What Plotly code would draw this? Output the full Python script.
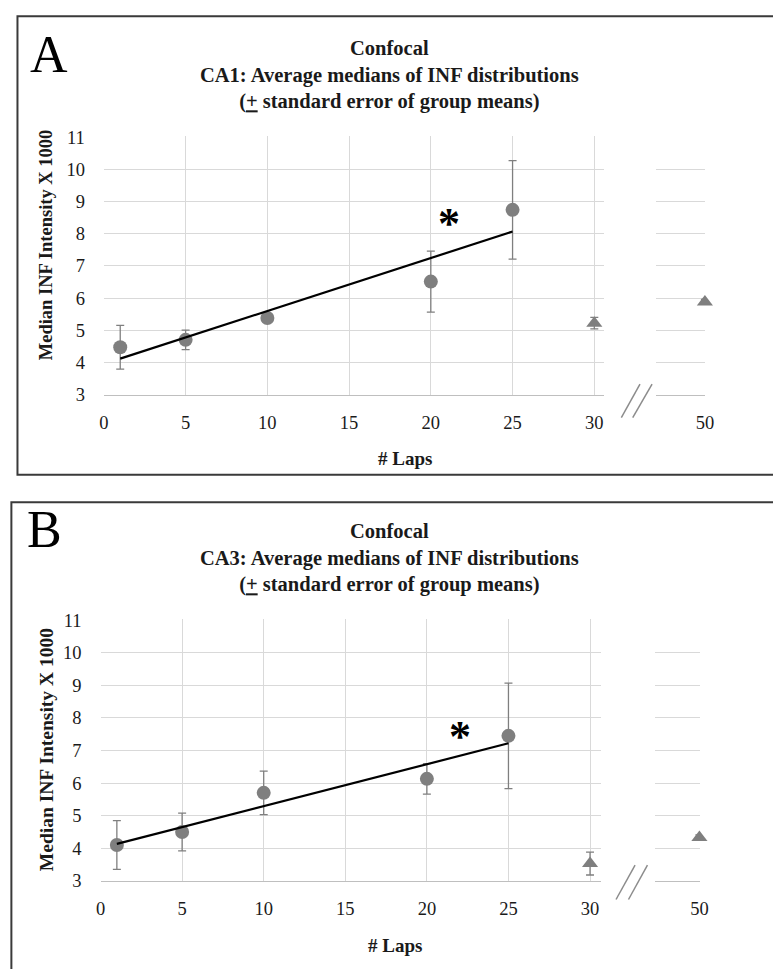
import numpy as np
import plotly.graph_objects as go

# ---------------- data ----------------
laps = [1, 5, 10, 20, 25]
ctrl30_laps = [30]
ctrl50_laps = [50]

ca1_mean = [4.47, 4.70, 5.38, 6.51, 8.74]
ca1_se = [0.68, 0.30, 0.12, 0.95, 1.53]
ca1_30_mean = [5.22]
ca1_30_se = [0.18]
ca1_50_mean = [5.88]
ca1_50_se = [0.08]

ca3_mean = [4.10, 4.50, 5.70, 6.13, 7.45]
ca3_se = [0.75, 0.58, 0.67, 0.47, 1.62]
ca3_30_mean = [3.53]
ca3_30_se = [0.35]
ca3_50_mean = [4.33]
ca3_50_se = [0.08]

x_ticks_main = [0, 5, 10, 15, 20, 25, 30]
x_ticks_right = [50]
y_ticks = [3, 4, 5, 6, 7, 8, 9, 10, 11]

titles = [
    "<b>Confocal<br>CA1: Average medians of INF distributions<br>(<u>+</u> standard error of group means)</b>",
    "<b>Confocal<br>CA3: Average medians of INF distributions<br>(<u>+</u> standard error of group means)</b>",
]
panel_letters = ["A", "B"]
star_pos = [(21.1, 8.56), (22.0, 7.68)]

# ---------------- style ----------------
W, H = 773, 969
FONT = "Liberation Serif"
GREY = "#7f7f7f"
GRID = "#d9d9d9"
TXT = "#1a1a1a"


def px(x):
    return x / W


def py(y):
    return 1 - y / H


fig = go.Figure()


def add_panel(idx, mean, se, m30, s30, m50, s50):
    xm = "x" if idx == 0 else "x3"
    ym = "y" if idx == 0 else "y3"
    xr = "x2" if idx == 0 else "x4"
    yr = "y2" if idx == 0 else "y4"
    err_style = dict(type="data", color=GREY, thickness=1.3, width=4, visible=True)
    fig.add_trace(go.Scatter(
        x=laps, y=mean, mode="markers", xaxis=xm, yaxis=ym,
        marker=dict(symbol="circle", size=14, color=GREY),
        error_y=dict(array=se, **err_style), showlegend=False, cliponaxis=False))
    fig.add_trace(go.Scatter(
        x=ctrl30_laps, y=m30, mode="markers", xaxis=xm, yaxis=ym,
        marker=dict(symbol="triangle-up", size=14, color=GREY),
        error_y=dict(array=s30, **err_style), showlegend=False, cliponaxis=False))
    fig.add_trace(go.Scatter(
        x=ctrl50_laps, y=m50, mode="markers", xaxis=xr, yaxis=yr,
        marker=dict(symbol="triangle-up", size=14, color=GREY),
        error_y=dict(array=s50, **err_style), showlegend=False, cliponaxis=False))
    # linear trend line fitted to the lap points
    k, b = np.polyfit(laps, mean, 1)
    tx = [min(laps), max(laps)]
    fig.add_trace(go.Scatter(
        x=tx, y=[k * t + b for t in tx], mode="lines", xaxis=xm, yaxis=ym,
        line=dict(color="black", width=2.2), showlegend=False))
    sx, sy = star_pos[idx]
    fig.add_annotation(x=sx, y=sy, xref=xm, yref=ym, text="<b>*</b>",
                       xanchor="center", yanchor="middle",
                       showarrow=False, font=dict(family=FONT, size=44, color="black"),
                       yshift=-8)


add_panel(0, ca1_mean, ca1_se, ca1_30_mean, ca1_30_se, ca1_50_mean, ca1_50_se)
add_panel(1, ca3_mean, ca3_se, ca3_30_mean, ca3_30_se, ca3_50_mean, ca3_50_se)

axis_common = dict(showgrid=True, gridcolor=GRID, gridwidth=1, zeroline=False,
                   tickfont=dict(family=FONT, size=18.5, color=TXT), ticks="")

# panel geometry (pixels)
geo = [
    dict(mx=(100.7, 610.0), mrange=(0, 30.59), rx=(663.3, 713.3), rrange=(47.0, 50.03),
         y=(393.3, 130.0)),
    dict(mx=(97.3, 607.3), mrange=(0, 30.69), rx=(662.0, 707.7), rrange=(47.25, 50.03),
         y=(889.3, 622.7)),
]

for i, g in enumerate(geo):
    a = 2 * i + 1
    xm_name = "xaxis" if a == 1 else f"xaxis{a}"
    ym_name = "yaxis" if a == 1 else f"yaxis{a}"
    xr_name = f"xaxis{a + 1}"
    yr_name = f"yaxis{a + 1}"
    ydom = [py(g["y"][0]), py(g["y"][1])]
    fig.layout[xm_name] = dict(
        axis_common, domain=[px(g["mx"][0]), px(g["mx"][1])], range=list(g["mrange"]),
        tickvals=x_ticks_main, anchor="y" if a == 1 else f"y{a}",
        showline=True, linecolor="#bfbfbf", linewidth=1.2, ticklabelstandoff=11)
    fig.layout[ym_name] = dict(
        axis_common, domain=ydom, range=[3, 11.02], tickvals=y_ticks,
        anchor="x" if a == 1 else f"x{a}", showline=False, ticklabelstandoff=18)
    fig.layout[xr_name] = dict(
        axis_common, domain=[px(g["rx"][0]), px(g["rx"][1])], range=list(g["rrange"]),
        tickvals=x_ticks_right, anchor=f"y{a + 1}",
        showline=True, linecolor="#bfbfbf", linewidth=1.2, ticklabelstandoff=11)
    fig.layout[yr_name] = dict(
        axis_common, domain=ydom, range=[3, 11.02], tickvals=y_ticks,
        anchor=f"x{a + 1}", showticklabels=False, showline=False)

# titles, panel letters, axis titles
title_y = [67, 560]
letter_pos = [(45, 46), (40, 531)]
ytitle_pos = [(41.7, 240), (41.7, 755)]
ytitle_size = [18.5, 19.5]
xtitle_pos = [(407, 458), (397, 955)]
for i in range(2):
    fig.add_annotation(x=px(392), y=py(title_y[i]), xref="paper", yref="paper",
                       xanchor="center", yanchor="middle",
                       text=titles[i], showarrow=False, align="center",
                       font=dict(family=FONT, size=20.5, color=TXT))
    fig.add_annotation(x=px(letter_pos[i][0]), y=py(letter_pos[i][1]), xref="paper", yref="paper",
                       xanchor="center", yanchor="middle",
                       text=panel_letters[i], showarrow=False,
                       font=dict(family=FONT, size=52, color="black"))
    fig.add_annotation(x=px(ytitle_pos[i][0]), y=py(ytitle_pos[i][1]), xref="paper", yref="paper",
                       xanchor="center", yanchor="middle",
                       text="<b>Median INF Intensity X 1000</b>", textangle=-90, showarrow=False,
                       font=dict(family=FONT, size=ytitle_size[i], color=TXT))
    fig.add_annotation(x=px(xtitle_pos[i][0]), y=py(xtitle_pos[i][1]), xref="paper", yref="paper",
                       xanchor="center", yanchor="middle",
                       text="<b># Laps</b>", showarrow=False,
                       font=dict(family=FONT, size=19, color=TXT))

# frames around panels
fig.add_shape(type="rect", xref="paper", yref="paper", x0=px(12.7), x1=px(790),
              y0=py(475), y1=py(7.3), line=dict(color="#3a3a3a", width=2))
fig.add_shape(type="rect", xref="paper", yref="paper", x0=px(6.5), x1=px(790),
              y0=py(990), y1=py(503), line=dict(color="#3a3a3a", width=2))

# axis-break marks
breaks = [
    [((627.7, 416.7), (646.7, 382.7)), ((639.3, 416.7), (659.0, 382.7))],
    [((622.3, 908.3), (641.7, 873.3)), ((635.0, 908.3), (654.3, 873.3))],
]
for pair in breaks:
    for (x0, y0), (x1, y1) in pair:
        fig.add_shape(type="line", xref="paper", yref="paper",
                      x0=px(x0), y0=py(y0), x1=px(x1), y1=py(y1),
                      line=dict(color="#8c8c8c", width=1.5))

fig.update_layout(width=W, height=H, margin=dict(l=0, r=0, t=0, b=0),
                  paper_bgcolor="white", plot_bgcolor="white", showlegend=False,
                  font=dict(family=FONT))

fig.write_html("out.html")
